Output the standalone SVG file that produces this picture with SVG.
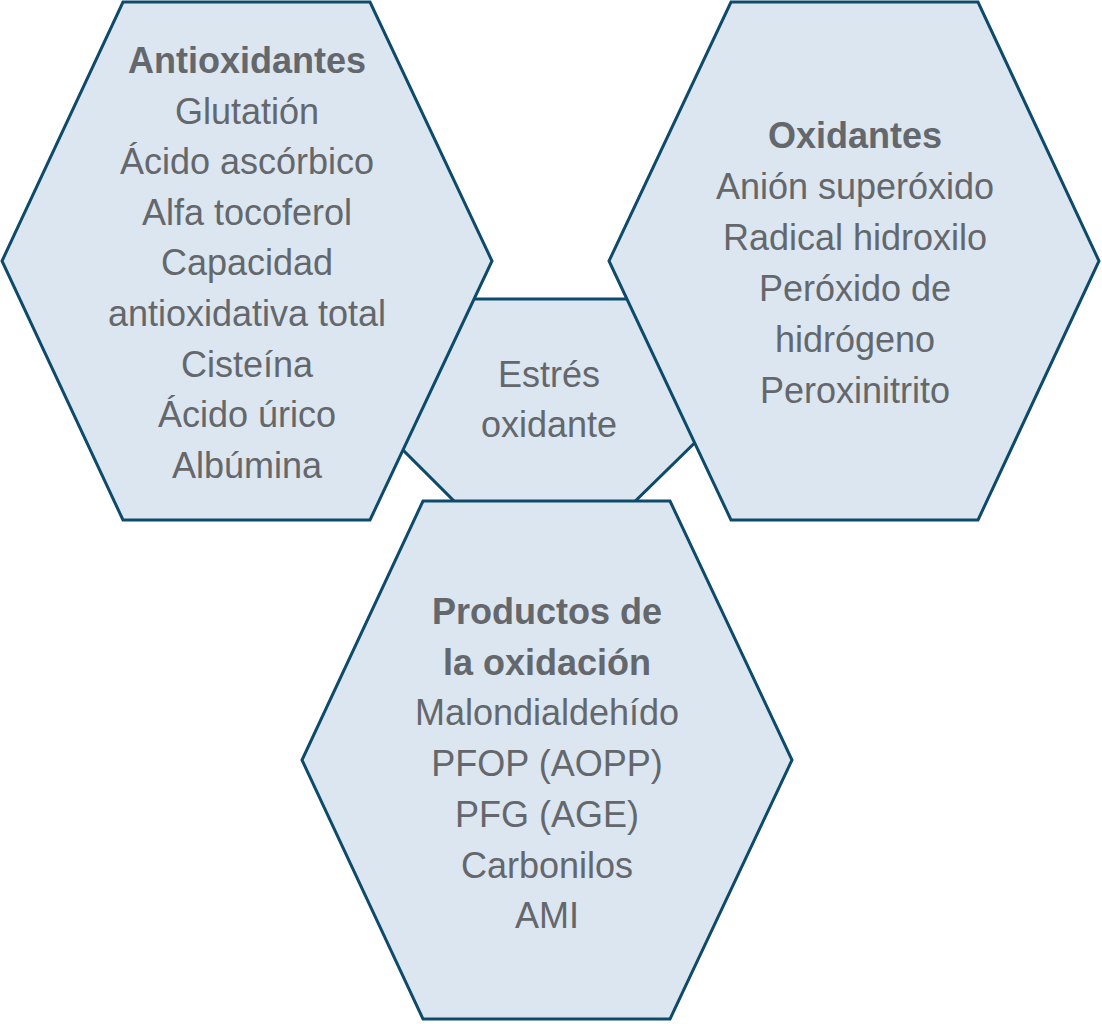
<svg xmlns="http://www.w3.org/2000/svg" width="1102" height="1024" viewBox="0 0 1102 1024">
<style>
.hex{fill:#dbe6f0;stroke:#0e4a6a;stroke-width:3;stroke-linejoin:miter}
text{font-family:"Liberation Sans",Arial,Helvetica,sans-serif;font-size:36px;fill:#64676b;text-anchor:middle}
.b{font-weight:bold}
</style>
<rect width="1102" height="1024" fill="#ffffff"/>
<g id="estres">
<polygon class="hex" points="455,299 648,299 718,420 619,517 470,517 373,420"/>
<text x="549" y="387">Estrés</text>
<text x="549" y="437">oxidante</text>
</g>
<g id="antioxidantes">
<polygon class="hex" points="123,2 370,2 492,261 370,520 123,520 2,261"/>
<text x="247" y="73" class="b">Antioxidantes</text>
<text x="247" y="123.6">Glutatión</text>
<text x="247" y="174.2">Ácido ascórbico</text>
<text x="247" y="224.8">Alfa tocoferol</text>
<text x="247" y="275.4">Capacidad</text>
<text x="247" y="326">antioxidativa total</text>
<text x="247" y="376.6">Cisteína</text>
<text x="247" y="427.2">Ácido úrico</text>
<text x="247" y="477.8">Albúmina</text>
</g>
<g id="oxidantes">
<polygon class="hex" points="731,2 978,2 1099,261 978,520 731,520 609,261"/>
<text x="855" y="148" class="b">Oxidantes</text>
<text x="855" y="199">Anión superóxido</text>
<text x="855" y="250">Radical hidroxilo</text>
<text x="855" y="301">Peróxido de</text>
<text x="855" y="352">hidrógeno</text>
<text x="855" y="403">Peroxinitrito</text>
</g>
<g id="productos">
<polygon class="hex" points="423,501 670,501 792,760 670,1019 423,1019 302,760"/>
<text x="547" y="624" class="b">Productos de</text>
<text x="547" y="674.7" class="b">la oxidación</text>
<text x="547" y="725.4">Malondialdehído</text>
<text x="547" y="776.1">PFOP (AOPP)</text>
<text x="547" y="826.8">PFG (AGE)</text>
<text x="547" y="877.5">Carbonilos</text>
<text x="547" y="928.2">AMI</text>
</g>
<g id="connectors"></g>
</svg>
